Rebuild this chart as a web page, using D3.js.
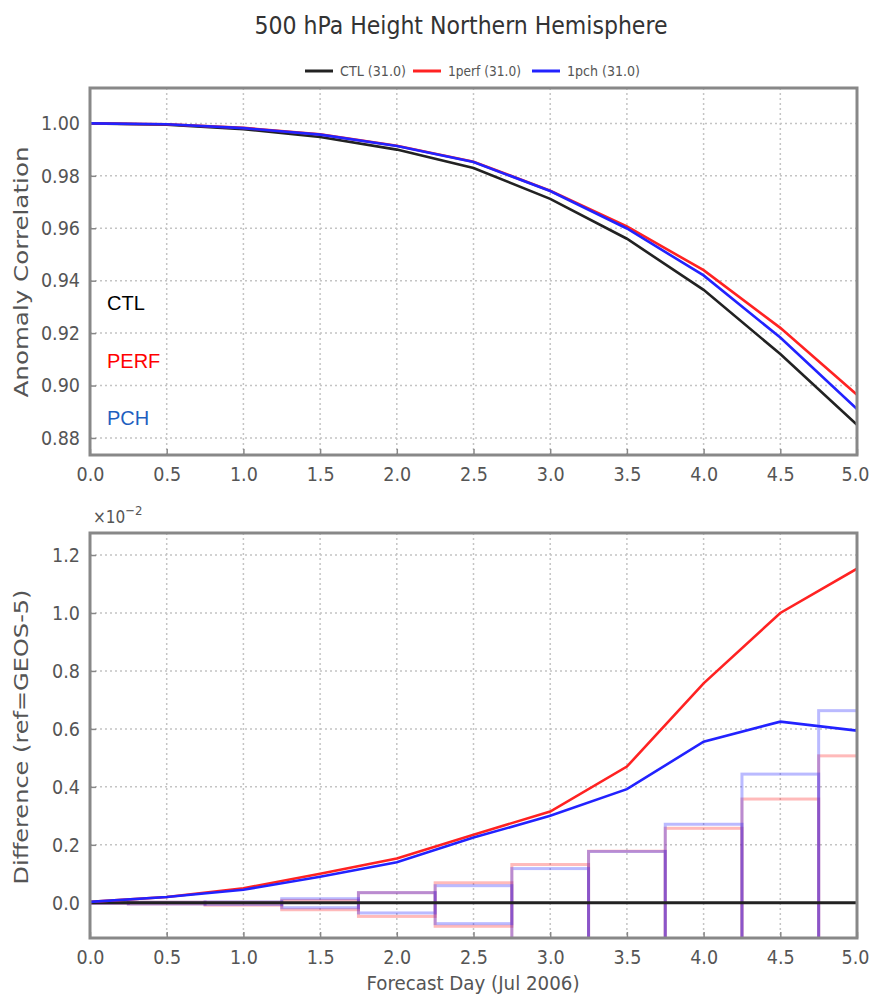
<!DOCTYPE html>
<html>
<head>
<meta charset="utf-8">
<script src="https://cdn.jsdelivr.net/npm/d3@7"></script>
<style>
  body { margin: 0; background: #fff; }
  text { font-family: "DejaVu Sans Condensed", "DejaVu Sans", sans-serif; font-stretch: condensed; }
</style>
</head>
<body>
<div id="chart"></div>
<script>
// forecast days (x values)
const days = [0, 0.5, 1.0, 1.5, 2.0, 2.5, 3.0, 3.5, 4.0, 4.5, 5.0];

// top panel: anomaly correlation
const ctlAC  = [1.0000, 0.9995, 0.9978, 0.9948, 0.9900, 0.9830, 0.9712, 0.9560, 0.9365, 0.9120, 0.8850];
const perfAC = [1.0000, 0.9997, 0.9983, 0.9958, 0.9915, 0.9854, 0.9743, 0.9607, 0.9440, 0.9220, 0.8965];
const pchAC  = [1.0000, 0.9997, 0.9982, 0.9957, 0.9914, 0.9853, 0.9742, 0.9599, 0.9420, 0.9183, 0.8910];

// bottom panel: difference from ref (x 10^-2)
const ctlDiff  = [0, 0, 0, 0, 0, 0, 0, 0, 0, 0, 0];
const perfDiff = [0.003, 0.020, 0.050, 0.100, 0.153, 0.235, 0.315, 0.470, 0.757, 1.000, 1.153];
const pchDiff  = [0.003, 0.020, 0.045, 0.090, 0.140, 0.225, 0.300, 0.392, 0.556, 0.625, 0.594];

// significance boxes (x 10^-2)
const perfHi = [0.001, 0.002, 0.002, 0.008, 0.035, 0.069, 0.132, 0.178, 0.257, 0.358, 0.507];
const perfLo = [-0.002, -0.004, -0.008, -0.024, -0.047, -0.081, -0.140, -0.190, -0.270, -0.370, -0.520];
const pchHi  = [0.001, 0.002, 0.003, 0.014, 0.035, 0.059, 0.118, 0.177, 0.271, 0.444, 0.663];
const pchLo  = [-0.002, -0.004, -0.006, -0.017, -0.035, -0.072, -0.130, -0.180, -0.280, -0.450, -0.670];

// tick labels
const xTicks = [0, 0.5, 1.0, 1.5, 2.0, 2.5, 3.0, 3.5, 4.0, 4.5, 5.0];
const yTicksTop = [0.88, 0.90, 0.92, 0.94, 0.96, 0.98, 1.00];
const yTicksBot = [0.0, 0.2, 0.4, 0.6, 0.8, 1.0, 1.2];

const series = ["CTL (31.0)", "1perf (31.0)", "1pch (31.0)"];
const colors = ["#222222", "#ff2222", "#2222ff"];

const W = 869, H = 995;
const svg = d3.select("#chart").append("svg")
    .attr("width", W).attr("height", H);

const left = 90, right = 857;
const top1 = 88, bot1 = 455;
const top2 = 533, bot2 = 938;

const x = d3.scaleLinear().domain([0, 5]).range([left, right]);
const yTop = d3.scaleLinear().domain([0.8735, 1.0135]).range([bot1, top1]);
const yBot = d3.scaleLinear().domain([-0.1215, 1.276]).range([bot2, top2]);

// clip paths
const defs = svg.append("defs");
defs.append("clipPath").attr("id", "clipTop").append("rect")
    .attr("x", left).attr("y", top1).attr("width", right - left).attr("height", bot1 - top1);
defs.append("clipPath").attr("id", "clipBot").append("rect")
    .attr("x", left).attr("y", top2).attr("width", right - left).attr("height", bot2 - top2);

function panel(y, yTicks, yFmt, yTop0, yBot0) {
    const g = svg.append("g");
    // grid
    g.append("g").selectAll("line").data(xTicks.slice(1, -1)).join("line")
        .attr("x1", d => x(d)).attr("x2", d => x(d))
        .attr("y1", yTop0).attr("y2", yBot0)
        .attr("stroke", "#c4c4c4").attr("stroke-width", 1.5).attr("stroke-dasharray", "2,3");
    g.append("g").selectAll("line").data(yTicks).join("line")
        .attr("x1", left).attr("x2", right)
        .attr("y1", d => y(d)).attr("y2", d => y(d))
        .attr("stroke", "#c4c4c4").attr("stroke-width", 1.5).attr("stroke-dasharray", "2,3");

    // axes
    g.append("g").attr("transform", `translate(0,${yBot0})`)
        .call(d3.axisBottom(x).tickValues(xTicks).tickFormat(d3.format(".1f")).tickSize(-6).tickPadding(12))
        .call(a => a.select(".domain").remove())
        .call(a => a.selectAll("line").attr("stroke", "#888").attr("stroke-width", 1.5))
        .call(a => a.selectAll("text").attr("fill", "#555").attr("font-size", 19.5)
            .style("font-family", "'DejaVu Sans Condensed','DejaVu Sans',sans-serif"))
        // keep the last label inside the page
        .call(a => a.selectAll("text").filter(d => d === 5).attr("text-anchor", "end").attr("dx", 12));
    g.append("g").attr("transform", `translate(${left},0)`)
        .call(d3.axisLeft(y).tickValues(yTicks).tickFormat(yFmt).tickSize(-6).tickPadding(10))
        .call(a => a.select(".domain").remove())
        .call(a => a.selectAll("line").attr("stroke", "#888").attr("stroke-width", 1.5))
        .call(a => a.selectAll("text").attr("fill", "#555").attr("font-size", 19.5)
            .style("font-family", "'DejaVu Sans Condensed','DejaVu Sans',sans-serif"));
    return g;
}

// ---- top panel ----
panel(yTop, yTicksTop, d3.format(".2f"), top1, bot1);
const lineTop = d3.line().x((d, i) => x(days[i])).y(d => yTop(d));
const gTop = svg.append("g").attr("clip-path", "url(#clipTop)");
[ctlAC, perfAC, pchAC].forEach((s, k) => {
    gTop.append("path").datum(s)
        .attr("d", lineTop).attr("fill", "none")
        .attr("stroke", colors[k]).attr("stroke-width", 2.6);
});
svg.append("rect").attr("x", left).attr("y", top1)
    .attr("width", right - left).attr("height", bot1 - top1)
    .attr("fill", "none").attr("stroke", "#888").attr("stroke-width", 3);

// annotations
const notes = [["CTL", "#000000", 310], ["PERF", "#ff0000", 368], ["PCH", "#1f5fbf", 425]];
svg.append("g").selectAll("text").data(notes).join("text")
    .attr("x", 107).attr("y", d => d[2])
    .attr("fill", d => d[1])
    .attr("font-size", 20)
    .style("font-family", "'Liberation Sans', Arial, sans-serif")
    .style("font-stretch", "normal")
    .text(d => d[0]);

// ---- bottom panel ----
panel(yBot, yTicksBot, d3.format(".1f"), top2, bot2);
const gBot = svg.append("g").attr("clip-path", "url(#clipBot)");

// significance boxes
const boxSets = [[perfHi, perfLo, "rgba(255,40,40,0.32)"], [pchHi, pchLo, "rgba(40,40,255,0.32)"]];
boxSets.forEach(([hi, lo, col]) => {
    gBot.append("g").selectAll("rect").data(days).join("rect")
        .attr("x", d => x(d - 0.25))
        .attr("width", d => x(d + 0.25) - x(d - 0.25))
        .attr("y", (d, i) => yBot(hi[i]))
        .attr("height", (d, i) => yBot(lo[i]) - yBot(hi[i]))
        .attr("fill", "none").attr("stroke", col).attr("stroke-width", 3);
});

const lineBot = d3.line().x((d, i) => x(days[i])).y(d => yBot(d));
[ctlDiff, perfDiff, pchDiff].forEach((s, k) => {
    gBot.append("path").datum(s)
        .attr("d", lineBot).attr("fill", "none")
        .attr("stroke", colors[k]).attr("stroke-width", k === 0 ? 3 : 2.6);
});
svg.append("rect").attr("x", left).attr("y", top2)
    .attr("width", right - left).attr("height", bot2 - top2)
    .attr("fill", "none").attr("stroke", "#888").attr("stroke-width", 3);

// x10^-2 multiplier
const mult = svg.append("text").attr("x", 93).attr("y", 523)
    .attr("fill", "#555").attr("font-size", 17);
mult.append("tspan").text("×10");
mult.append("tspan").attr("dy", -8).attr("font-size", 13).text("−2");

// ---- titles and labels ----
svg.append("text").attr("x", 461).attr("y", 34)
    .attr("text-anchor", "middle").attr("fill", "#333").attr("font-size", 24)
    .attr("textLength", 413).attr("lengthAdjust", "spacingAndGlyphs")
    .text("500 hPa Height Northern Hemisphere");

svg.append("text")
    .attr("transform", `translate(28,272) rotate(-90)`)
    .attr("text-anchor", "middle").attr("fill", "#555").attr("font-size", 20)
    .attr("textLength", 251).attr("lengthAdjust", "spacingAndGlyphs")
    .text("Anomaly Correlation");

svg.append("text")
    .attr("transform", `translate(28,737) rotate(-90)`)
    .attr("text-anchor", "middle").attr("fill", "#555").attr("font-size", 20)
    .attr("textLength", 295).attr("lengthAdjust", "spacingAndGlyphs")
    .text("Difference (ref=GEOS-5)");

svg.append("text").attr("x", 473).attr("y", 990)
    .attr("text-anchor", "middle").attr("fill", "#555").attr("font-size", 20)
    .attr("textLength", 213).attr("lengthAdjust", "spacingAndGlyphs")
    .text("Forecast Day (Jul 2006)");

// legend
const legX = [305, 413, 532];
const legLen = [66, 73, 73];
const leg = svg.append("g").selectAll("g").data(series).join("g")
    .attr("transform", (d, i) => `translate(${legX[i]},71)`);
leg.append("line").attr("x1", 0).attr("x2", 28)
    .attr("stroke", (d, i) => colors[i]).attr("stroke-width", 3);
leg.append("text").attr("x", 35).attr("y", 5)
    .attr("fill", "#555").attr("font-size", 14)
    .attr("textLength", (d, i) => legLen[i]).attr("lengthAdjust", "spacingAndGlyphs")
    .text(d => d);
</script>
</body>
</html>
